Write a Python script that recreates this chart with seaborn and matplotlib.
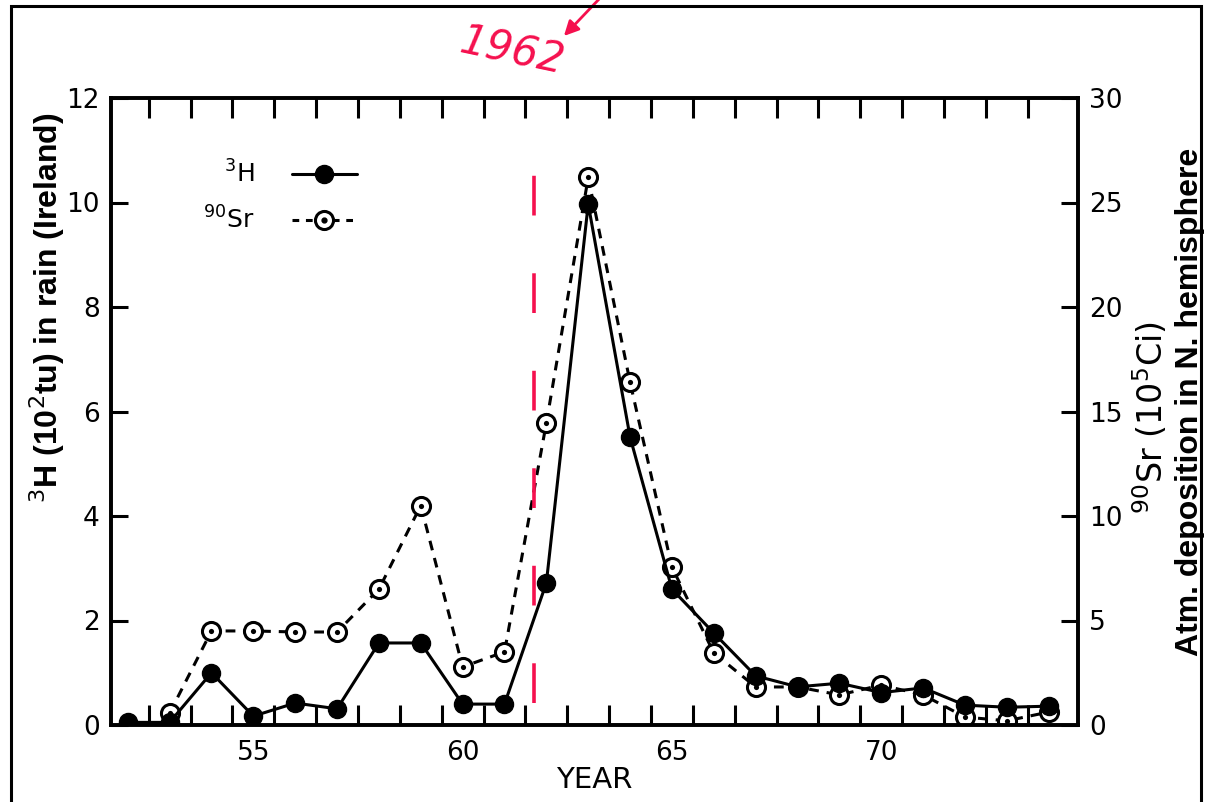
import numpy as np
import pandas as pd
import matplotlib
matplotlib.use("Agg")
import matplotlib.pyplot as plt
import seaborn as sns
from matplotlib.lines import Line2D
from matplotlib.legend_handler import HandlerTuple
from matplotlib.patches import Rectangle

# dados
anos_h3 = [52, 53, 54, 55, 56, 57, 58, 59, 60, 61, 62, 63, 64, 65, 66, 67, 68, 69, 70, 71, 72, 73, 74]
h3 = [0.05, 0.05, 1.0, 0.17, 0.42, 0.31, 1.57, 1.57, 0.40, 0.40, 2.72, 9.97, 5.51, 2.60,
      1.76, 0.94, 0.73, 0.80, 0.62, 0.71, 0.38, 0.34, 0.36]

anos_sr = [53, 54, 55, 56, 57, 58, 59, 60, 61, 62, 63, 64, 65, 66, 67, 68, 69, 70, 71, 72, 73, 74]
sr90 = [0.57, 4.5, 4.5, 4.45, 4.45, 6.5, 10.5, 2.78, 3.5, 14.45, 26.2, 16.4, 7.55,
        3.45, 1.82, 1.82, 1.44, 1.91, 1.44, 0.38, 0.2, 0.62]

ano_1962 = 61.7
xticks_rot = [55, 60, 65, 70]
yticks_h3 = [0, 2, 4, 6, 8, 10, 12]
yticks_sr = [0, 5, 10, 15, 20, 25, 30]

df_h3 = pd.DataFrame({"Ano": anos_h3, "H3": h3})
df_sr = pd.DataFrame({"Ano": anos_sr, "Sr": sr90})

sns.set_style("ticks")
plt.rcParams["font.family"] = ["DejaVu Sans"]
plt.rcParams["mathtext.fontset"] = "dejavusans"
for k in ["text.color", "axes.labelcolor", "xtick.color", "ytick.color", "axes.edgecolor"]:
    plt.rcParams[k] = "black"

vermelho = "#f5104e"
lw = 2.2

fig = plt.figure(figsize=(12.07, 8.02), dpi=100)
ax = fig.add_axes([111 / 1207, 1 - 725 / 802, (1078 - 111) / 1207, (725 - 98) / 802])
ax2 = ax.twinx()
ax.set_zorder(ax2.get_zorder() + 1)
ax.patch.set_visible(False)

# 90Sr (eixo direito) - tracejado com circulos abertos
sns.lineplot(data=df_sr, x="Ano", y="Sr", ax=ax2, color="black", linewidth=lw,
             linestyle=(0, (3.2, 2.6)), marker="o", markersize=13,
             markerfacecolor="white", markeredgecolor="black", markeredgewidth=2.2)
sns.scatterplot(data=df_sr, x="Ano", y="Sr", ax=ax2, color="black", s=14, linewidth=0, zorder=5)

# 3H (eixo esquerdo) - linha continua com circulos cheios
sns.lineplot(data=df_h3, x="Ano", y="H3", ax=ax, color="black", linewidth=lw,
             marker="o", markersize=13, markerfacecolor="black",
             markeredgecolor="black", markeredgewidth=1)

# linha vermelha de 1962
ax.axvline(ano_1962, ymin=(725 - 703) / 627, ymax=(725 - 128) / 627, color=vermelho,
           linewidth=2.6, linestyle=(0, (11, 16)), zorder=1)

ax.set_xlim(51.6, 74.7)
ax.set_ylim(0, 12)
ax2.set_ylim(0, 30)

ax.set_xticks(xticks_rot)
ax.set_xticklabels([str(t) for t in xticks_rot])
ax.set_xticks(np.arange(52.5, 74, 1.0), minor=True)
ax.set_yticks(yticks_h3)
ax.set_yticklabels([str(t) for t in yticks_h3])
ax2.set_yticks(yticks_sr)
ax2.set_yticklabels([str(t) for t in yticks_sr])

ax.tick_params(axis="x", which="major", length=0, pad=11, labelsize=19)
ax.tick_params(axis="x", which="minor", direction="in", length=14.5, width=2.2,
               top=True, bottom=True)
ax2.tick_params(axis="x", which="both", length=0, labelbottom=False, labeltop=False)
ax.tick_params(axis="y", which="major", direction="in", length=12, width=2.2,
               pad=8, labelsize=19)
ax2.tick_params(axis="y", direction="in", length=12, width=2.2, pad=8, labelsize=19)

for a in (ax, ax2):
    for s in a.spines.values():
        s.set_linewidth(2.6)
        s.set_visible(True)

ax.set_xlabel("YEAR", fontsize=21, labelpad=0)
ax.set_ylabel(r"$^{3}$H (10$^{2}$tu) in rain (Ireland)", fontsize=23, fontweight="bold",
              family=["Liberation Sans", "DejaVu Sans"])
ax.yaxis.set_label_coords(-0.045, 0.665)
ax2.set_ylabel(r"$^{90}$Sr (10$^{5}$Ci)", fontsize=24)
ax2.yaxis.set_label_coords(1.055, 0.49)

fig.text(1190 / 1207, 1 - 402 / 802, "Atm. deposition in N. hemisphere", rotation=90,
         ha="center", va="center", fontsize=23, fontweight="bold",
         family=["Liberation Sans", "DejaVu Sans"])

# legenda
h_h3 = Line2D([], [], color="black", linewidth=lw, marker="o", markersize=13)
h_sr = (Line2D([], [], color="black", linewidth=lw, linestyle=(0, (2.2, 2.2)), marker="o",
               markersize=13, markerfacecolor="white", markeredgewidth=2.2),
        Line2D([], [], color="black", linestyle="none", marker="o", markersize=3.5))
ax.legend([h_h3, h_sr], [r"$^{3}$H", r"$^{90}$Sr"], loc="upper left",
          bbox_to_anchor=(0.095, 0.9), frameon=False, markerfirst=False,
          handlelength=2.6, handletextpad=1.5, labelspacing=0.75, fontsize=18,
          borderpad=0, borderaxespad=0,
          handler_map={tuple: HandlerTuple(ndivide=1, pad=0)})

# anotacao manuscrita
fig.text(512 / 1207, 1 - 52 / 802, "1962", color=vermelho, fontsize=30, fontstyle="italic",
         rotation=-12, ha="center", va="center")
ax.annotate("", xy=(562 / 1207, 1 - 38 / 802), xytext=(602 / 1207, 1.005),
            xycoords="figure fraction", textcoords="figure fraction",
            arrowprops=dict(arrowstyle="-|>", color=vermelho, lw=2, mutation_scale=22),
            annotation_clip=False)

# moldura
fig.patches.append(Rectangle((11 / 1207, -0.05), 1190 / 1207, 1.05 - 6 / 802,
                             transform=fig.transFigure, fill=False, edgecolor="black",
                             linewidth=2.2))

fig.savefig("out.png", dpi=100)
